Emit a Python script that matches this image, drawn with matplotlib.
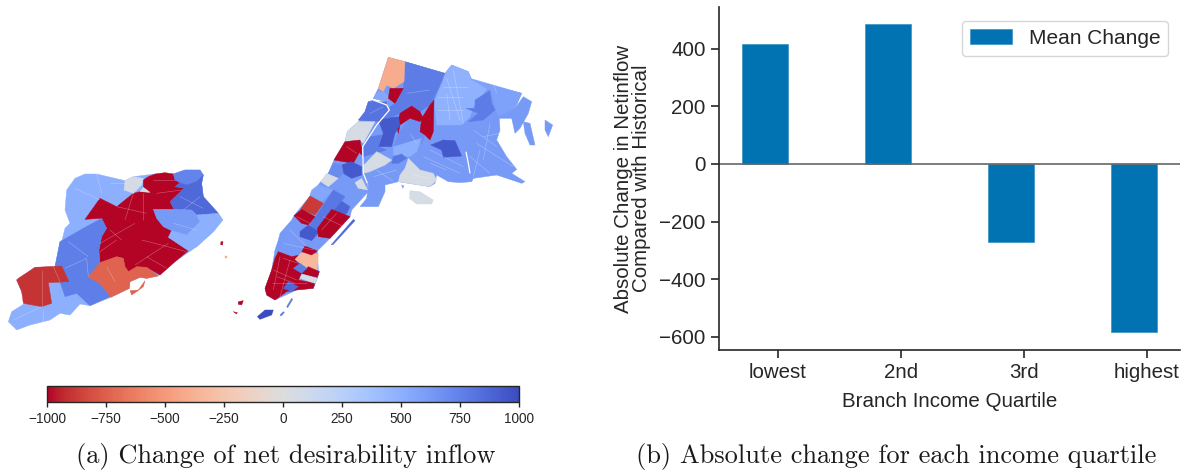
import numpy as np
import matplotlib
matplotlib.use('Agg')
import matplotlib.pyplot as plt
from matplotlib.collections import PolyCollection, LineCollection
from matplotlib.colors import Normalize

W, H = 1187, 473

# bar panel
quartiles = ['lowest', '2nd', '3rd', 'highest']
mean_change = [415, 485, -270, -582]

# colour bar
cbar_ticks = [-1000, -750, -500, -250, 0, 250, 500, 750, 1000]

# map regions, traced in map units, with the change value of each region
staten_regions = [
    [(255,42),(290,42),(375,62),(400,50),(465,42),(520,42),(555,30),(600,30),(610,45),(605,70),(610,110),(655,160),(668,180),(640,215),(590,260),(525,305),(480,345),(440,355),(420,352),(390,365),(388,385),(332,412),(270,437),(240,432),(210,465),(180,460),(150,480),(90,495),(50,510),(25,485),(35,455),(75,430),(65,395),(50,360),(105,322),(165,320),(180,245),(185,245),(195,205),(210,190),(195,150),(200,90),(225,55)],
    [(465,42),(495,38),(520,42),(525,60),(540,68),(525,80),(552,85),(510,125),(522,148),(460,148),(470,175),(490,200),(515,212),(505,232),(565,272),(525,305),(480,345),(440,322),(410,320),(385,335),(375,320),(370,295),(350,290),(300,308),(297,270),(305,230),(320,205),(305,175),(255,178),(300,115),(350,140),(400,100),(420,95),(450,97),(430,82),(430,60),(445,50)],
    [(375,62),(400,50),(430,55),(425,75),(400,100),(372,90)],
    [(420,95),(430,82),(450,97)],
    [(520,42),(555,30),(600,30),(610,45),(590,65),(560,75),(540,68),(525,60)],
    [(590,65),(610,45),(605,70),(610,110),(655,160),(590,165),(575,150),(522,148),(510,125),(552,85),(525,80),(540,68),(560,75)],
    [(460,148),(522,148),(575,150),(590,165),(600,185),(560,225),(515,212),(490,200),(470,175)],
    [(590,165),(655,160),(668,180),(640,215),(590,260),(565,272),(505,232),(515,212),(560,225),(600,185)],
    [(305,175),(320,205),(305,230),(297,270),(300,308),(265,350),(305,375),(330,410),(270,437),(230,400),(195,410),(180,365),(207,365),(185,318),(165,320),(180,245),(250,205)],
    [(350,290),(370,295),(375,320),(385,335),(410,320),(440,322),(475,348),(440,355),(420,352),(390,365),(388,385),(332,412),(305,375),(265,350),(300,308)],
    [(435,362),(430,380),(410,395),(395,405),(390,392),(415,390)],
    [(55,355),(105,322),(185,318),(207,365),(145,368),(155,430),(125,440),(70,430),(65,395),(50,360)],
    [(663,245),(669,245),(668,255),(662,254)],
    [(675,289),(680,289),(680,293),(675,293)],
]
staten_values = [500, -1000, 60, 60, 740, 860, 620, 500, 760, -740, -740, -900, -1000, -400]

north_regions = [
    [(475,22),(525,35),(645,70),(665,45),(715,65),(725,90),(875,130),(855,175),(880,140),(905,155),(895,190),(870,235),(855,250),(845,205),(808,205),(810,240),(800,270),(830,320),(860,358),(845,370),(885,395),(875,400),(800,375),(730,385),(725,395),(690,398),(655,395),(620,375),(615,400),(600,410),(505,395),(465,405),(465,425),(445,470),(390,470),(410,445),(415,405),(400,375),(398,290),(440,225),(478,180),(470,155),(430,145),(445,115)],
    [(415,155),(430,150),(470,165),(478,180),(440,225),(398,290),(400,370),(412,400),(415,425),(365,480),(360,500),(300,565),(262,603),(265,660),(268,665),(262,685),(250,715),(200,720),(135,750),(110,735),(105,715),(125,660),(135,600),(145,570),(150,550),(185,510),(192,497),(240,438),(272,395),(295,370),(312,330),(345,275),(352,245),(385,215),(405,185)],
    [(610,245),(695,225),(720,280),(705,320),(650,320),(600,290),(565,300),(575,265)],
    [(630,90),(665,45),(715,65),(725,90),(780,105),(730,170),(720,200),(695,225),(620,225),(612,150)],
    [(720,85),(875,130),(855,175),(805,200),(790,150),(780,122)],
    [(780,122),(785,160),(795,180),(760,210),(715,215),(745,190),(708,175),(735,175),(735,150)],
    [(580,90),(640,85),(612,150),(570,185),(580,130)],
    [(880,215),(900,220),(915,285),(900,285),(885,250)],
    [(945,210),(968,225),(955,260),(945,240)],
    [(602,285),(640,270),(675,272),(695,318),(640,322),(635,300)],
    [(505,250),(540,205),(570,215),(570,245),(585,255),(575,280),(490,295)],
    [(490,290),(575,265),(560,305),(540,320),(490,315)],
    [(525,35),(645,70),(600,165),(570,185),(545,170),(510,190),(480,205),(445,210),(480,170),(495,160),(520,115),(522,95)],
    [(475,22),(525,35),(522,95),(490,115),(470,105),(460,125),(445,115)],
    [(445,125),(462,125),(480,145),(470,155),(430,145)],
    [(480,115),(520,115),(495,160),(475,145)],
    [(510,190),(545,168),(570,185),(580,205),(570,215),(540,205),(510,225),(505,250),(500,230)],
    [(612,150),(610,245),(600,270),(585,255),(570,245),(575,205),(600,165)],
    [(445,210),(505,200),(510,225),(495,250),(485,290),(445,290),(460,250)],
    [(420,260),(455,255),(445,290),(470,300),(435,310),(400,320),(400,290)],
    [(402,345),(440,305),(485,330),(465,345),(420,365),(400,370)],
    [(490,320),(515,312),(530,325),(505,340),(485,340)],
    [(535,325),(570,360),(610,370),(620,390),(600,410),(505,395),(510,375),(525,355)],
    [(540,422),(570,425),(610,450),(605,462),(560,462),(538,445)],
    [(415,155),(470,155),(475,185),(440,215),(385,210),(405,185)],
    [(352,245),(385,215),(435,215),(400,280),(390,270),(345,275)],
    [(345,275),(390,270),(395,295),(370,340),(312,330)],
    [(380,298),(395,295),(395,315)],
    [(335,345),(365,335),(395,350),(395,375),(365,385),(340,370)],
    [(295,370),(310,340),(335,345),(340,370),(325,385)],
    [(290,370),(325,385),(295,410),(272,395)],
    [(375,398),(395,385),(413,420),(385,415)],
    [(245,420),(265,405),(310,420),(275,455),(240,435)],
    [(310,465),(330,450),(360,470),(350,490),(340,495),(305,478)],
    [(240,525),(310,420),(345,440),(262,540)],
    [(212,478),(240,438),(280,460),(255,495)],
    [(192,497),(215,478),(255,500),(235,525),(215,520)],
    [(210,545),(235,525),(268,545),(245,572),(210,560)],
    [(262,535),(305,478),(360,500),(300,565),(265,560)],
    [(145,605),(185,620),(210,615),(195,630),(230,660),(210,680),(205,690),(255,700),(250,715),(200,720),(170,725),(135,750),(110,735),(105,715),(125,660),(135,625)],
    [(215,607),(265,612),(262,660),(225,650),(195,628)],
    [(225,588),(262,603),(245,615),(215,605)],
    [(235,650),(268,665),(262,682),(218,672)],
    [(215,672),(262,685),(255,700),(210,685)],
    [(190,655),(210,640),(230,655),(215,670)],
    [(160,715),(175,695),(205,710),(185,725)],
    [(303,585),(370,508),(375,512),(310,583)],
    [(82,800),(105,780),(130,780),(125,795),(90,808)],
    [(25,755),(40,752),(35,765),(25,763)],
    [(10,785),(22,788),(20,792)],
    [(515,405),(522,408),(518,415)],
    [(150,795),(160,785),(163,788),(153,798)],
    [(170,770),(185,745),(188,748),(173,773)],
]
north_values = [620, 620, 620, 480, 580, 780, 720, 620, 620, 930, 680, 500, 780, -400,
                550, -1000, -1000, -1000, 930, 780, 50, 800, 50, 50, 820, 50,
                -1000, -1000, 930, 700, 50, 50, 550, 880, 790, -880, -1000,
                930, -1000, -1000, -330, -1000, -1000, 50, 780, 870, 870, 1000, -1000, -1000, 600, 800, 800]

# rivers between the boroughs
north_rivers = [
    [(430,150),(470,165),(478,180),(440,225),(398,290),(400,370),(412,400)],
    [(708,305),(715,340),(720,370)],
]

# some tract boundaries
staten_tracts = [
    [(225,85),(300,120)], [(290,42),(305,100)], [(330,70),(375,70)], [(300,250),(405,190)], [(350,140),(440,160)],
    [(400,100),(375,180)], [(430,100),(430,180)], [(470,100),(545,90)], [(460,60),(525,60)], [(300,275),(350,240)],
    [(330,210),(365,240)], [(425,240),(560,275)], [(405,315),(505,250)], [(440,290),(500,325)], [(195,325),(260,295)],
    [(260,295),(265,350)], [(125,330),(125,440)], [(160,320),(180,365)], [(40,480),(125,440)], [(130,450),(130,490)],
    [(520,190),(590,210)], [(600,110),(550,150)], [(540,110),(610,145)], [(205,245),(265,290)], [(320,320),(345,365)],
]
north_tracts = [
    [(640,110),(715,110)], [(650,85),(690,210)], [(620,180),(700,180)], [(740,280),(850,350)], [(720,320),(780,370)],
    [(730,240),(800,290)], [(580,320),(690,370)], [(600,340),(650,360)], [(430,380),(500,360)], [(130,660),(200,690)],
    [(150,620),(130,720)], [(180,630),(150,740)], [(280,500),(340,530)], [(275,540),(320,490)], [(160,580),(250,600)],
    [(200,500),(240,520)], [(350,290),(380,310)], [(420,190),(460,170)], [(530,130),(600,120)], [(540,250),(560,280)],
    [(650,130),(660,210)], [(800,130),(790,100)], [(780,220),(760,330)], [(180,540),(230,590)],
    [(620,140),(700,140)], [(670,60),(700,220)], [(600,300),(700,350)], [(750,300),(730,380)], [(760,260),(810,250)],
    [(125,700),(230,700)], [(160,625),(205,640)], [(140,680),(195,700)], [(440,360),(490,395)], [(550,375),(600,385)],
]


def to_pixels(points, dx, dy):
    pts = np.array(points, dtype=float)
    return np.column_stack([pts[:, 0] / 3 + dx, pts[:, 1] / 3 + dy])


def axes_from_pixels(fig, left, top, right, bottom):
    return fig.add_axes([left / W, 1 - bottom / H, (right - left) / W, (bottom - top) / H])


def map_plot(ax, norm):
    staten = [to_pixels(p, 0, 160) for p in staten_regions]
    north = [to_pixels(p, 230, 50) for p in north_regions]
    polys = PolyCollection(staten + north, array=np.array(staten_values + north_values, dtype=float),
                           cmap='coolwarm_r', norm=norm, edgecolors='face', linewidths=0.3)
    ax.add_collection(polys)
    tracts = [to_pixels(p, 0, 160) for p in staten_tracts] + [to_pixels(p, 230, 50) for p in north_tracts]
    ax.add_collection(LineCollection(tracts, colors='white', linewidths=0.4, alpha=0.35))
    ax.add_collection(LineCollection([to_pixels(p, 230, 50) for p in north_rivers], colors='white', linewidths=0.9))
    ax.set_xlim(0, 600)
    ax.set_ylim(H, 0)
    ax.axis('off')
    return polys


def bar_plot(ax):
    x = np.arange(len(quartiles))
    ax.bar(x - 0.105, mean_change, 0.37, color='#0173b2', edgecolor='#3a93c6', linewidth=0.5, label='Mean Change')
    ax.axhline(0, color='#666666', linewidth=1.2)
    ax.set_xticks(x, quartiles)
    ax.set_yticks([-600, -400, -200, 0, 200, 400])
    ax.set_xlim(-0.48, 3.27)
    ax.set_ylim(-646, 545)
    ax.tick_params(labelsize=14.8, length=6, width=1.2, colors='.15')
    ax.set_xlabel('Branch Income Quartile', fontsize=14.8, color='.15', labelpad=7)
    ax.set_ylabel('Absolute Change in Netinflow\nCompared with Historical', fontsize=14.8, color='.15',
                  linespacing=0.95, labelpad=6)
    for side in ['top', 'right']:
        ax.spines[side].set_visible(False)
    for side in ['left', 'bottom']:
        ax.spines[side].set_color('.15')
        ax.spines[side].set_linewidth(1.2)
    ax.legend(loc='upper right', fontsize=15, labelcolor='.15', bbox_to_anchor=(0.975, 0.96), borderaxespad=0)


plt.rcParams['font.family'] = ['Liberation Sans', 'DejaVu Sans']
plt.rcParams['axes.unicode_minus'] = True

fig = plt.figure(figsize=(W / 100, H / 100), dpi=100)
norm = Normalize(-1000, 1000)

map_ax = fig.add_axes([0, 0, 600 / W, 1])
polys = map_plot(map_ax, norm)

cax = axes_from_pixels(fig, 47, 386, 519, 402)
cb = fig.colorbar(polys, cax=cax, orientation='horizontal', ticks=cbar_ticks)
cb.ax.tick_params(labelsize=9.8, length=3.5, width=1, colors='.15')
cb.outline.set_edgecolor('.15')
cb.outline.set_linewidth(1)

bar_ax = axes_from_pixels(fig, 719, 7, 1180, 350)
bar_plot(bar_ax)

fig.text(286 / W, 1 - 456 / H, '(a) Change of net desirability inflow', family='cmr10', fontsize=19,
         ha='center', va='center', color='.1')
fig.text(896 / W, 1 - 456 / H, '(b) Absolute change for each income quartile', family='cmr10', fontsize=19,
         ha='center', va='center', color='.1')

fig.savefig('out.png', dpi=100)
plt.close()
